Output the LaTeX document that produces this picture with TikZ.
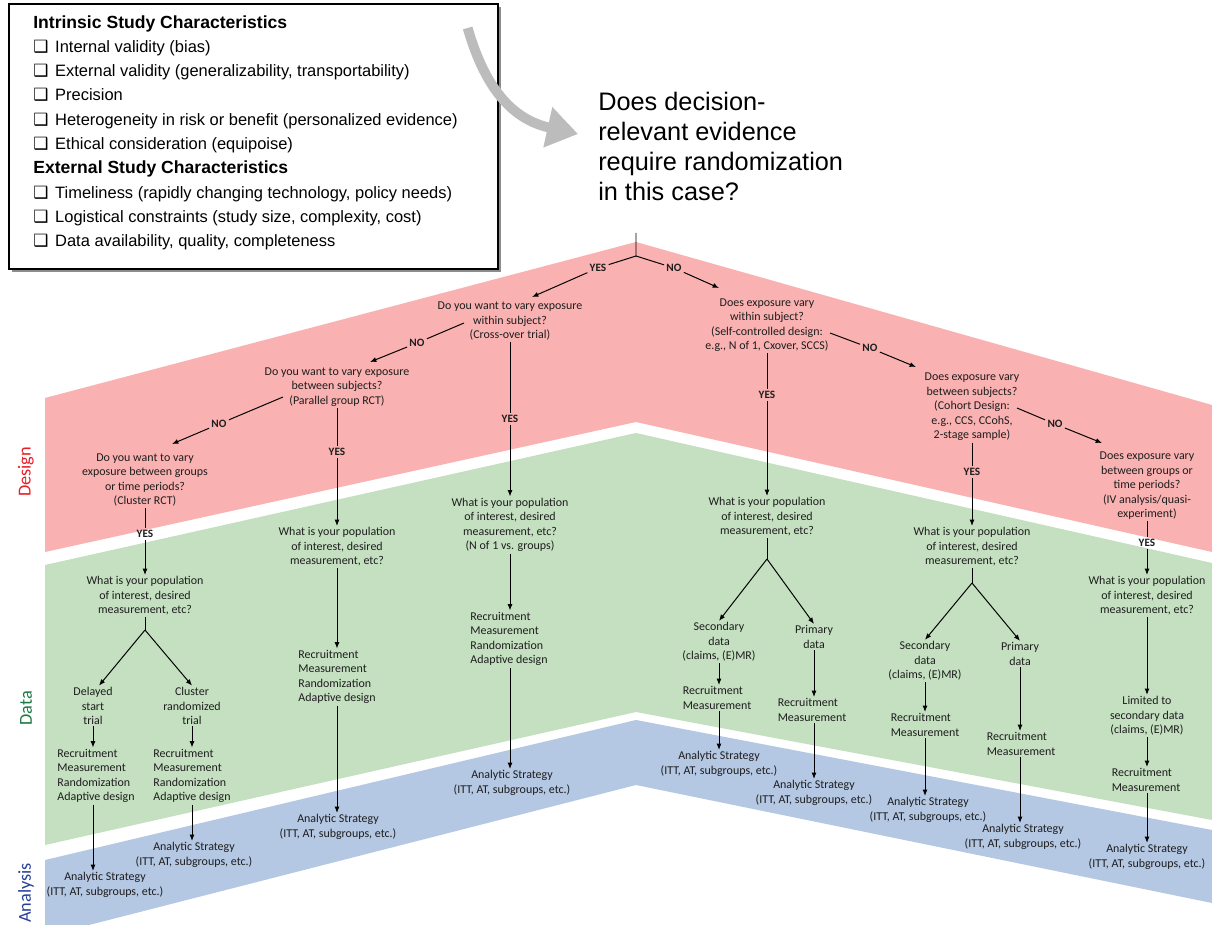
\documentclass[tikz,border=0pt]{standalone}
\usepackage{fontspec}
\setmainfont{Carlito}
\newfontfamily\arialfont{Liberation Sans}
\newfontfamily\symfont{DejaVu Sans}
\usetikzlibrary{positioning,arrows.meta,calc,shadows}
\definecolor{bandRed}{RGB}{250,177,177}
\definecolor{bandGreen}{RGB}{196,224,192}
\definecolor{bandBlue}{RGB}{180,199,227}
\definecolor{lblRed}{RGB}{232,30,38}
\definecolor{lblGreen}{RGB}{30,122,70}
\definecolor{lblBlue}{RGB}{40,65,150}
\definecolor{ink}{RGB}{30,30,30}
\definecolor{arrowGray}{RGB}{188,188,188}
\newcommand{\chkitem}[1]{\makebox[15.6pt][l]{\symfont\fontsize{12}{12}\selectfont ❑}#1}
\tikzset{
    qtext/.style={font=\fontsize{8.5}{10.3}\selectfont, align=center, text=ink, inner sep=1pt},
    ltext/.style={qtext, align=left},
    answer/.style={font=\fontsize{8}{9}\selectfont\bfseries, text=ink, inner sep=1.5pt},
    link/.style={draw=black, line width=0.7pt},
    flow/.style={link, -{Latex[length=4.5pt,width=3.6pt]}},
    bandlabel/.style={rotate=90, font=\fontsize{13}{13}\selectfont}
}
\begin{document}
\begin{tikzpicture}[x=0.025cm, y=-0.025cm]
  \path[use as bounding box, fill=white] (0,0) rectangle (1212,925);

  % stage bands
  \fill[bandRed] (45,398) -- (636,242) -- (1212,405) -- (1212,552) -- (636,422) -- (45,552) -- cycle;
  \fill[bandGreen] (45,565) -- (636,433) -- (1212,563) -- (1212,820) -- (636,712) -- (45,845) -- cycle;
  \fill[bandBlue] (45,860) -- (636,720) -- (1212,830) -- (1212,903) -- (636,785) -- (89,925) -- (45,925) -- cycle;
  \node[bandlabel, text=lblRed] (lblDesign) at (26,472) {Design};
  \node[bandlabel, text=lblGreen] (lblData) at (26,708) {Data};
  \node[bandlabel, text=lblBlue] (lblAnalysis) at (26,893) {Analysis};

  % characteristics box
  \node[draw=black, line width=1.1pt, fill=white, minimum width=12.225cm, minimum height=6.625cm,
        anchor=north west, inner sep=0pt,
        general shadow={fill=black!45, shadow xshift=2.5pt, shadow yshift=-2.5pt}] (charbox) at (8,3) {};
  \node[anchor=north west, align=left, inner sep=0pt, text=black,
        font=\arialfont\fontsize{11.7}{17.3}\selectfont] (charlist) at (33,15) {
    {\fontsize{12.5}{17.3}\selectfont\bfseries Intrinsic Study Characteristics}\\
    \chkitem{Internal validity (bias)}\\
    \chkitem{External validity (generalizability, transportability)}\\
    \chkitem{Precision}\\
    \chkitem{Heterogeneity in risk or benefit (personalized evidence)}\\
    \chkitem{Ethical consideration (equipoise)}\\
    {\fontsize{12.5}{17.3}\selectfont\bfseries External Study Characteristics}\\
    \chkitem{Timeliness (rapidly changing technology, policy needs)}\\
    \chkitem{Logistical constraints (study size, complexity, cost)}\\
    \chkitem{Data availability, quality, completeness}
  };

  % main question
  \node[anchor=north west, align=left, inner sep=0pt, text=black,
        font=\arialfont\fontsize{18}{21.3}\selectfont] (question) at (598,92) {
    Does decision-\\relevant evidence\\require randomization\\in this case?};
  \draw[arrowGray, line width=7pt, -{Triangle[length=22pt,width=28pt]}]
    ([shift={(-31,25)}]charbox.north east) .. controls (486,92) and (515,120) .. ([shift={(-20,42)}]question.north west);

  % design questions
  \node[answer] (yes0) at (598,268) {YES};
  \node[answer] (no0) at (674,268) {NO};
  \node[qtext] (q1) at (510,321) {Do you want to vary exposure\\within subject?\\(Cross-over trial)};
  \node[answer] (no1) at (417,343) {NO};
  \node[qtext] (q2) at (337,387) {Do you want to vary exposure\\between subjects?\\(Parallel group RCT)};
  \node[answer] (no2) at (219,424) {NO};
  \node[qtext] (q3) at (145,480) {Do you want to vary\\exposure between groups\\or time periods?\\(Cluster RCT)};
  \node[qtext] (q4) at (767,325) {Does exposure vary\\within subject?\\(Self-controlled design:\\e.g., N of 1, Cxover, SCCS)};
  \node[answer] (no4) at (870,348) {NO};
  \node[qtext] (q5) at (972,407) {Does exposure vary\\between subjects?\\(Cohort Design:\\e.g., CCS, CCohS,\\2-stage sample)};
  \node[answer] (no5) at (1055,424) {NO};
  \node[qtext] (q6) at (1147,486) {Does exposure vary\\between groups or\\time periods?\\(IV analysis/quasi-\\experiment)};

  \node[answer] (yes1) at (510,419) {YES};
  \node[answer] (yes2) at (337,452) {YES};
  \node[answer] (yes3) at (145,534) {YES};
  \node[answer] (yes4) at (767,395) {YES};
  \node[answer] (yes5) at (972,472) {YES};
  \node[answer] (yes6) at (1147,543) {YES};

  % data and analysis
  \node[qtext] (p1) at (510,525) {What is your population\\of interest, desired\\measurement, etc?\\(N of 1 vs. groups)};
  \node[ltext] (r1) at (509,639) {Recruitment\\Measurement\\Randomization\\Adaptive design};
  \node[qtext] (a1) at (512,783) {Analytic Strategy\\(ITT, AT, subgroups, etc.)};

  \node[qtext] (p2) at (337,547) {What is your population\\of interest, desired\\measurement, etc?};
  \node[ltext] (r2) at (337,677) {Recruitment\\Measurement\\Randomization\\Adaptive design};
  \node[qtext] (a2) at (338,827) {Analytic Strategy\\(ITT, AT, subgroups, etc.)};

  \node[qtext] (p3) at (145,596) {What is your population\\of interest, desired\\measurement, etc?};
  \node[qtext] (d3a) at (93,706) {Delayed\\start\\trial};
  \node[qtext] (d3b) at (192,706) {Cluster\\randomized\\trial};
  \node[ltext] (r3a) at (96,776) {Recruitment\\Measurement\\Randomization\\Adaptive design};
  \node[ltext] (r3b) at (192,776) {Recruitment\\Measurement\\Randomization\\Adaptive design};
  \node[qtext] (a3a) at (105,885) {Analytic Strategy\\(ITT, AT, subgroups, etc.)};
  \node[qtext] (a3b) at (194,855) {Analytic Strategy\\(ITT, AT, subgroups, etc.)};

  \node[qtext] (p4) at (767,517) {What is your population\\of interest, desired\\measurement, etc?};
  \node[qtext] (s4) at (719,642) {Secondary\\data\\(claims, (E)MR)};
  \node[qtext] (pr4) at (814,637) {Primary\\data};
  \node[ltext] (rm4) at (717,698) {Recruitment\\Measurement};
  \node[ltext] (rm4b) at (812,710) {Recruitment\\Measurement};
  \node[qtext] (an4) at (719,764) {Analytic Strategy\\(ITT, AT, subgroups, etc.)};
  \node[qtext] (an4b) at (814,793) {Analytic Strategy\\(ITT, AT, subgroups, etc.)};

  \node[qtext] (p5) at (972,547) {What is your population\\of interest, desired\\measurement, etc?};
  \node[qtext] (s5) at (925,661) {Secondary\\data\\(claims, (E)MR)};
  \node[qtext] (pr5) at (1020,654) {Primary\\data};
  \node[ltext] (rm5) at (925,725) {Recruitment\\Measurement};
  \node[ltext] (rm5b) at (1021,744) {Recruitment\\Measurement};
  \node[qtext] (an5) at (928,810) {Analytic Strategy\\(ITT, AT, subgroups, etc.)};
  \node[qtext] (an5b) at (1023,837) {Analytic Strategy\\(ITT, AT, subgroups, etc.)};

  \node[qtext] (p6) at (1147,596) {What is your population\\of interest, desired\\measurement, etc?};
  \node[qtext] (lim6) at (1147,716) {Limited to\\secondary data\\(claims, (E)MR)};
  \node[ltext] (rm6) at (1146,780) {Recruitment\\Measurement};
  \node[qtext] (an6) at (1147,857) {Analytic Strategy\\(ITT, AT, subgroups, etc.)};

  % top split
  \coordinate (stem) at (636,233);
  \coordinate (split) at (636,256);
  \draw[link] (stem) -- (split) -- (yes0);
  \draw[link] (split) -- (no0);
  \draw[flow] (yes0) -- ([shift={(22,-24)}]q1.center);
  \draw[flow] (no0) -- ([shift={(-48,-37)}]q4.center);

  % NO branches
  \draw[link] ([shift={(-46,2)}]q1.center) -- (no1);
  \draw[flow] (no1) -- ([shift={(33,-25)}]q2.center);
  \draw[link] ([shift={(-54,10)}]q2.center) -- (no2);
  \draw[flow] (no2) -- ([shift={(27,-36)}]q3.center);
  \draw[link] ([shift={(63,8)}]q4.center) -- (no4);
  \draw[flow] (no4) -- ([shift={(-56,-40)}]q5.center);
  \draw[link] ([shift={(45,1)}]q5.center) -- (no5);
  \draw[flow] (no5) -- ([shift={(-45,-43)}]q6.center);

  % cross-over column
  \draw[link] (q1) -- (yes1);
  \draw[flow] (yes1) -- (p1);
  \draw[flow] (p1) -- (p1 |- r1.north);
  \draw[flow] (p1 |- r1.south) -- (p1 |- a1.north);

  % parallel group column
  \draw[link] (q2) -- (yes2);
  \draw[flow] (yes2) -- (p2);
  \draw[flow] (p2) -- (p2 |- r2.north);
  \draw[flow] (p2 |- r2.south) -- (p2 |- a2.north);

  % cluster column
  \coordinate (f3) at (145,630);
  \draw[link] (q3) -- (yes3);
  \draw[flow] (yes3) -- (p3);
  \draw[link] (p3) -- (f3);
  \draw[flow] (f3) -- ([shift={(6,0)}]d3a.north);
  \draw[flow] (f3) -- (d3b.north);
  \draw[flow] (d3a) -- (d3a |- r3a.north);
  \draw[flow] (d3b) -- (d3b |- r3b.north);
  \draw[flow] (d3a |- r3a.south) -- (d3a |- a3a.north);
  \draw[flow] (d3b |- r3b.south) -- (d3b |- a3b.north);

  % self-controlled column
  \coordinate (f4) at (767,559);
  \draw[link] (q4) -- (yes4);
  \draw[flow] (yes4) -- (p4);
  \draw[link] (p4) -- (f4);
  \draw[flow] (f4) -- (s4.north);
  \draw[flow] (f4) -- (pr4.north);
  \draw[flow] (s4) -- (s4 |- rm4.north);
  \draw[flow] (pr4) -- (pr4 |- rm4b.north);
  \draw[flow] (s4 |- rm4.south) -- (s4 |- an4.north);
  \draw[flow] (pr4 |- rm4b.south) -- (pr4 |- an4b.north);

  % cohort column
  \coordinate (f5) at (972,583);
  \draw[link] (q5) -- (yes5);
  \draw[flow] (yes5) -- (p5);
  \draw[link] (p5) -- (f5);
  \draw[flow] (f5) -- (s5.north);
  \draw[flow] (f5) -- (pr5.north);
  \draw[flow] (s5) -- (s5 |- rm5.north);
  \draw[flow] (pr5) -- (pr5 |- rm5b.north);
  \draw[flow] (s5 |- rm5.south) -- (s5 |- an5.north);
  \draw[flow] (pr5 |- rm5b.south) -- (pr5 |- an5b.north);

  % quasi-experiment column
  \draw[link] (q6) -- (yes6);
  \draw[flow] (yes6) -- (p6);
  \draw[flow] (p6) -- (lim6);
  \draw[flow] (lim6) -- (lim6 |- rm6.north);
  \draw[flow] (lim6 |- rm6.south) -- (an6);
\end{tikzpicture}
\end{document}
